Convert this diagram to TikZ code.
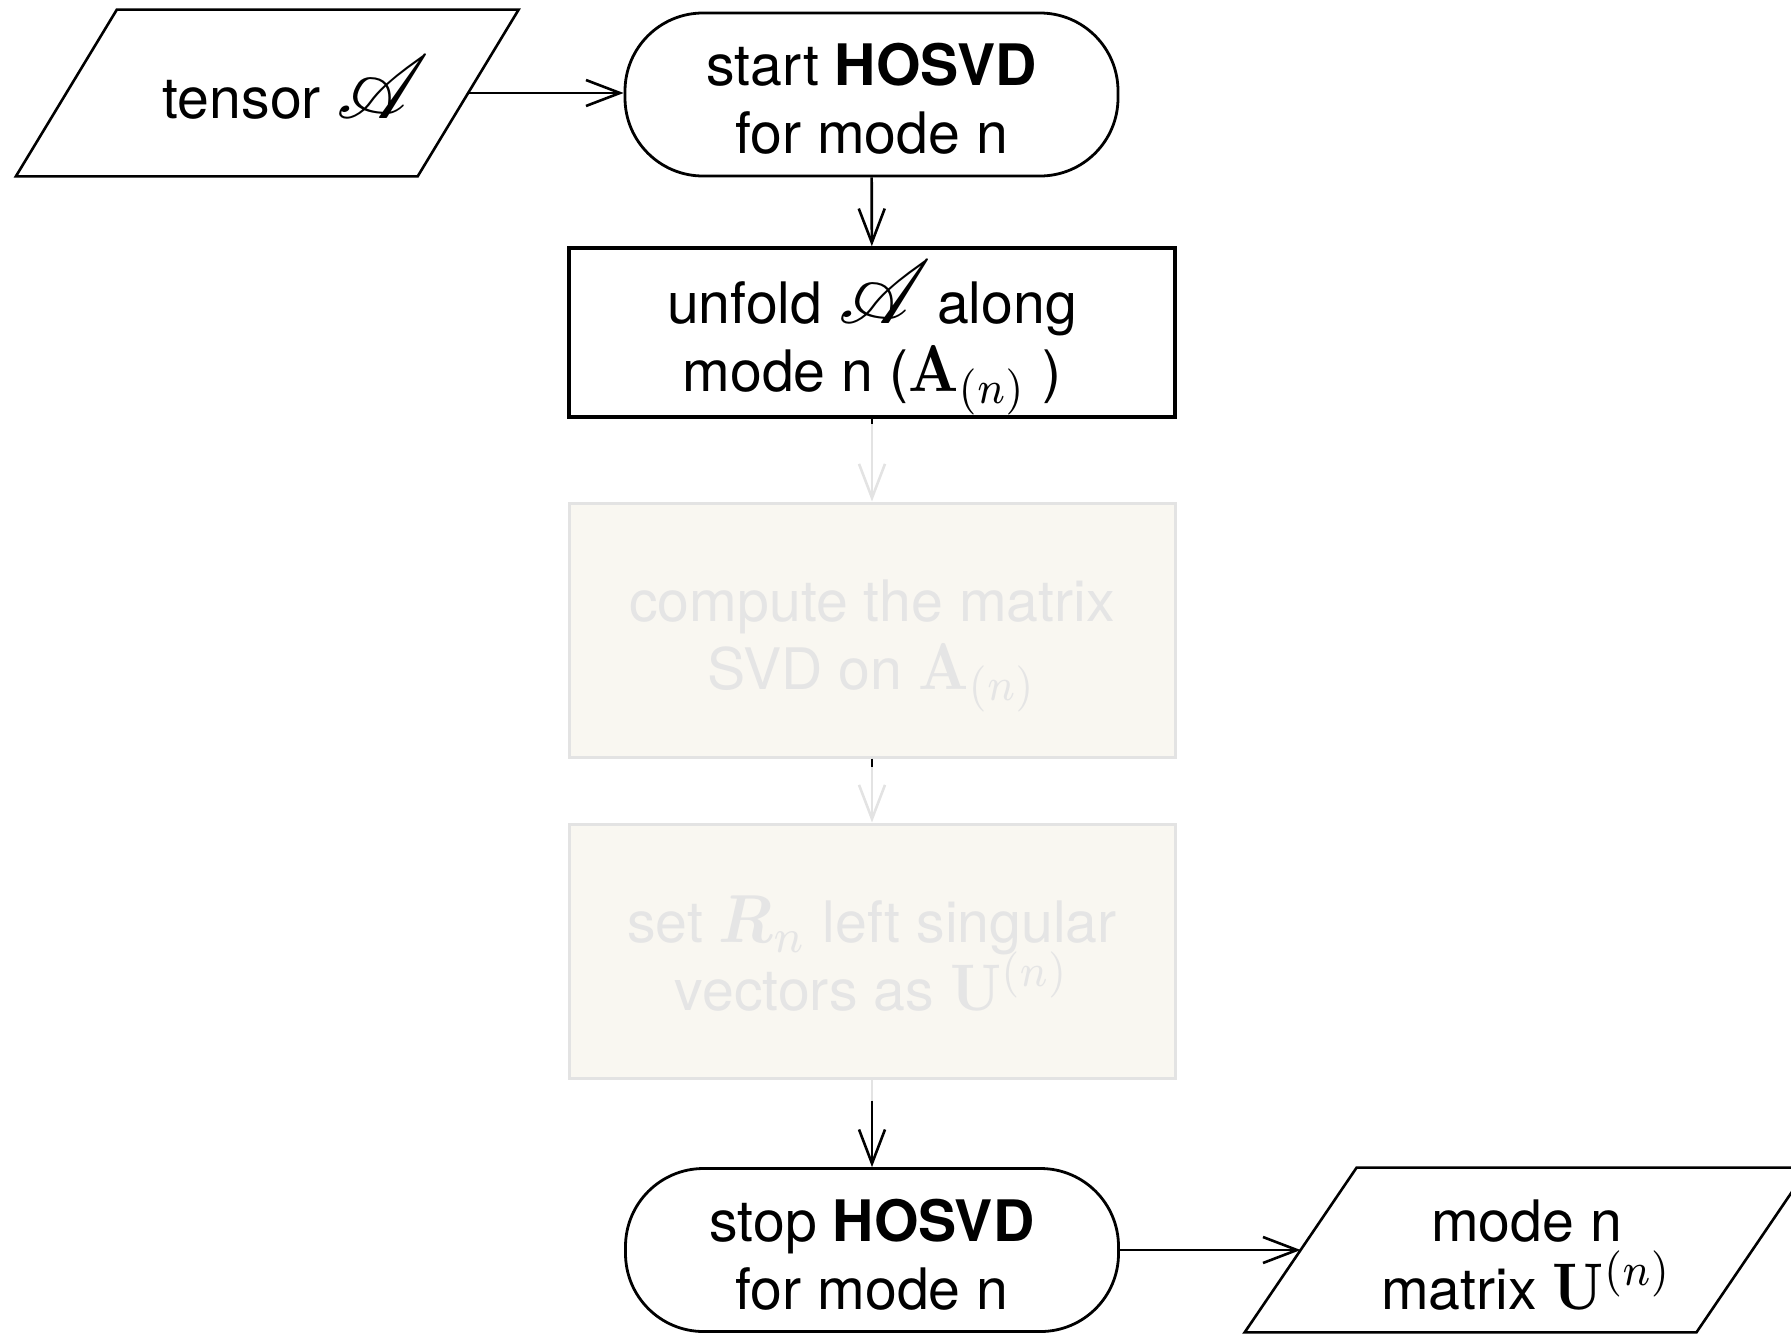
\documentclass[tikz,border=0pt]{standalone}
\usepackage[no-math]{fontspec}
\setmainfont{TeX Gyre Heros}
\usepackage{amsmath}
\usepackage{mathrsfs}
\usepackage{graphicx}
\usetikzlibrary{arrows.meta}

\definecolor{faded}{HTML}{E3E3E3}
\definecolor{fadedfill}{HTML}{F9F7F1}
\definecolor{fadedtext}{HTML}{E5E5E5}

% keep a fixed baseline distance between the two lines of a label
\lineskiplimit=-100pt
\lineskip=0pt

% formulas: 10pt math enlarged, without changing the line metrics
\newcommand{\fm}[3][2.9]{\smash{\scalebox{#1}[#2]{\fontsize{10pt}{12pt}\selectfont$#3$}}}
\newcommand{\tensorA}{\fm[4.5]{4.5}{\mathscr{A}}\hspace{-5pt}}
% fixed top and bottom of every label, so all labels sit alike
\newcommand{\lnopen}{\rule{0pt}{32pt}}
\newcommand{\lnclose}{\rule[-7pt]{0pt}{0pt}}

\tikzset{
  flow/.style={line width=1.3pt, -{Straight Barb[length=17pt,width=13pt]}},
  fadedline/.style={line width=1.3pt, draw=faded},
  term/.style={draw, line width=1.4pt, rounded corners=39pt,
    minimum width=246.5pt, minimum height=81.5pt, align=center, inner sep=0pt},
  procbox/.style={draw, line width=1.8pt, minimum width=303pt,
    minimum height=84.5pt, align=center, inner sep=0pt},
  fadedbox/.style={draw=faded, fill=fadedfill, text=fadedtext, line width=1.5pt,
    minimum width=303pt, minimum height=127pt, align=center, inner sep=0pt},
  ioframe/.style={inner sep=0pt, align=center},
  slanted/.style={line width=1.3pt},
}

\begin{document}
\begin{tikzpicture}[x=0.5pt, y=-0.5pt,
  every node/.append style={font=\fontsize{28.6pt}{34pt}\selectfont}]
  \useasboundingbox (0,0) rectangle (1791,1333);
  \clip (0,0) rectangle (1791,1333);

  % input tensor
  \node[ioframe, minimum width=200.5pt, minimum height=83pt] (in) at (267.25,93)
    {\lnopen\hspace*{24pt}tensor \tensorA\lnclose};
  \draw[slanted] ([xshift=25.25pt]in.north west) -- ([xshift=25.25pt]in.north east)
    -- ([xshift=-25.25pt]in.south east) -- ([xshift=-25.25pt]in.south west) -- cycle;

  % main column
  \node[term] (start) at (871.5,94.5)
    {\lnopen start \textbf{HOSVD}\\for mode n\lnclose};
  \node[procbox] (unfold) at (872,332.5)
    {\lnopen unfold \tensorA\ along\\mode n (\fm{3.3}{\mathbf{A}_{(n)}}\ )\lnclose};
  \node[fadedbox] (compute) at (872,630)
    {\lnopen compute the matrix\\SVD on \fm{3.3}{\mathbf{A}_{(n)}}\lnclose};
  \node[fadedbox] (setv) at (872,951)
    {\lnopen set \fm[3.1]{3.4}{\boldsymbol{R}_n} left singular\\vectors as \fm{3.3}{\mathbf{U}^{(n)}}\lnclose};
  \node[term] (stop) at (872,1250)
    {\lnopen stop \textbf{HOSVD}\\for mode n\lnclose};

  % output matrix
  \node[ioframe, minimum width=225.5pt, minimum height=82pt] (out) at (1526.5,1250)
    {\lnopen mode n\\matrix \fm{3.3}{\mathbf{U}^{(n)}}\lnclose};
  \draw[slanted] ([xshift=28pt]out.north west) -- ([xshift=28pt]out.north east)
    -- ([xshift=-28pt]out.south east) -- ([xshift=-28pt]out.south west) -- cycle;

  % connectors
  \draw[flow] (in.east) -- (in.east -| start.west);
  \draw[flow] (start) -- (unfold);
  \draw[flow, draw=faded] (unfold) -- (compute);
  \draw[line width=1.3pt] (unfold.south) -- ++(0,5);
  \draw[flow, draw=faded] (compute) -- (setv);
  \draw[line width=1.3pt] (compute.south) -- ++(0,8);
  \draw[fadedline] (setv.south) -- ++(0,21) coordinate (resume);
  \draw[flow] (resume) -- (stop.north);
  \draw[flow] (stop.east) -- (stop.east -| out.west);
\end{tikzpicture}
\end{document}
